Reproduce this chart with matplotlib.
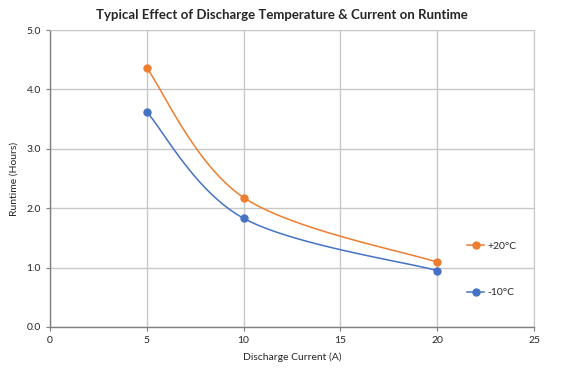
import numpy as np
import matplotlib.pyplot as plt
from matplotlib.ticker import FormatStrFormatter

# data
current = [5, 10, 20]
runtime_p20 = [4.36, 2.18, 1.09]
runtime_m10 = [3.62, 1.83, 0.95]
labels = ['+20°C', '-10°C']
colors = ['#ED7D31', '#4472C4']

plt.rcParams['font.family'] = ['Lato', 'DejaVu Sans']


def excel_smooth(x, y, n=60):
    # Bezier curve through the points, like Excel's "smoothed line"
    pts = np.column_stack([x, y]).astype(float)
    out = []
    for i in range(len(pts) - 1):
        p0 = pts[i - 1] if i > 0 else pts[i]
        p1 = pts[i]
        p2 = pts[i + 1]
        p3 = pts[i + 2] if i + 2 < len(pts) else pts[i + 1]
        c1 = p1 + (p2 - p0) / 6
        c2 = p2 - (p3 - p1) / 6
        t = np.linspace(0, 1, n)[:, None]
        seg = ((1 - t) ** 3) * p1 + 3 * ((1 - t) ** 2) * t * c1 + 3 * (1 - t) * t ** 2 * c2 + t ** 3 * p2
        out.append(seg if i == 0 else seg[1:])
    out = np.vstack(out)
    return out[:, 0], out[:, 1]


fig = plt.figure(figsize=(5.64, 3.68), dpi=100)
ax = fig.add_axes([50 / 564, 1 - 327 / 368, 484 / 564, 297 / 368])

for ys, lab, col in zip([runtime_p20, runtime_m10], labels, colors):
    sx, sy = excel_smooth(current, ys)
    ax.plot(sx, sy, color=col, lw=1.1, zorder=3)
    ax.plot(current, ys, 'o', color=col, ms=5, zorder=4)
    ax.plot([], [], color=col, lw=1.1, marker='o', ms=5, label=lab)

ax.set_xlim(0, 25)
ax.set_ylim(0, 5)
ax.set_xticks(range(0, 26, 5))
ax.set_yticks(np.arange(0, 5.01, 1))
ax.yaxis.set_major_formatter(FormatStrFormatter('%.1f'))
ax.grid(True, color='#c8c8c8', lw=1.0)
ax.set_axisbelow(True)
for s in ['top', 'right']:
    ax.spines[s].set_color('#c8c8c8')
for s in ['left', 'bottom']:
    ax.spines[s].set_color('#7f7f7f')
    ax.spines[s].set_linewidth(1.0)
ax.tick_params(axis='both', labelsize=7.5, length=3, colors='#7f7f7f', labelcolor='#262626')

ax.set_xlabel('Discharge Current (A)', fontsize=7.5, color='#262626', labelpad=5)
ax.set_ylabel('Runtime (Hours)', fontsize=7.5, color='#262626', labelpad=6)
fig.suptitle('Typical Effect of Discharge Temperature & Current on Runtime',
             fontsize=9.5, fontweight='bold', color='#262626', y=0.975)

leg = fig.legend(loc='upper left', bbox_to_anchor=(458 / 564, 1 - 232 / 368),
                 frameon=False, fontsize=7.5, handlelength=1.6, handletextpad=0.3,
                 labelspacing=3.6)
for t in leg.get_texts():
    t.set_color('#262626')

fig.savefig('out.png', dpi=100)
